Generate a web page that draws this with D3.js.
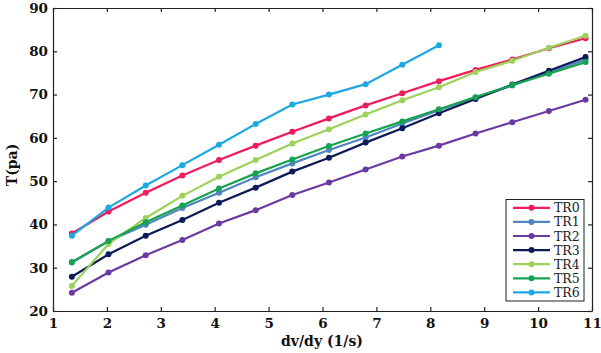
<!DOCTYPE html>
<html>
<head>
<meta charset="utf-8">
<script src="https://cdn.jsdelivr.net/npm/d3@7"></script>
<style>
  body { margin: 0; background: #fff; }
  text { font-family: "DejaVu Serif", serif; }
</style>
</head>
<body>
<svg id="chart" width="601" height="353"></svg>
<script>
// shear rate points (1/s)
var rates = [1.35, 2.03, 2.72, 3.4, 4.08, 4.76, 5.44, 6.12, 6.8, 7.48, 8.16, 8.84, 9.52, 10.2, 10.88]

var names = ["TR0", "TR1", "TR2", "TR3", "TR4", "TR5", "TR6"]
var colors = ["#f01a5c", "#4f86c2", "#6a3aa2", "#0c1b57", "#9cd25a", "#17a24f", "#1ca9e2"]

var tr0 = [37.9, 43.0, 47.3, 51.3, 54.9, 58.2, 61.4, 64.5, 67.5, 70.3, 73.1, 75.7, 78.1, 80.7, 83.0]
var tr1 = [31.2, 36.1, 39.9, 43.8, 47.3, 50.9, 54.1, 57.2, 60.1, 63.3, 66.4, 69.3, 72.1, 75.1, 78.1]
var tr2 = [24.2, 28.9, 32.9, 36.4, 40.2, 43.3, 46.8, 49.7, 52.7, 55.7, 58.2, 61.0, 63.6, 66.2, 68.8]
var tr3 = [27.9, 33.1, 37.4, 41.0, 45.0, 48.5, 52.2, 55.4, 58.9, 62.2, 65.7, 69.0, 72.3, 75.5, 78.7]
var tr4 = [25.8, 35.5, 41.5, 46.6, 51.0, 54.9, 58.7, 62.0, 65.4, 68.7, 71.7, 75.2, 77.8, 80.8, 83.6]
var tr5 = [31.3, 36.2, 40.5, 44.4, 48.3, 51.8, 55.0, 58.1, 61.0, 63.8, 66.6, 69.4, 72.2, 74.8, 77.5]
var tr6 = [37.4, 43.9, 49.0, 53.7, 58.4, 63.2, 67.7, 70.0, 72.4, 76.9, 81.4]

var seriesValues = [tr0, tr1, tr2, tr3, tr4, tr5, tr6]

var xTicks = [1, 2, 3, 4, 5, 6, 7, 8, 9, 10, 11]
var yTicks = [20, 30, 40, 50, 60, 70, 80, 90]

var svg = d3.select("#chart")
// plot box edges (window.top is reserved, so use other names)
var plotLeft = 53, plotRight = 592, plotTop = 8, plotBottom = 311

var x = d3.scaleLinear().domain([1, 11]).range([plotLeft, plotRight])
var y = d3.scaleLinear().domain([20, 90]).range([plotBottom, plotTop])

// axes, ticks pointing inward on all sides
svg.append("g")
    .attr("transform", "translate(0," + plotBottom + ")")
    .call(d3.axisBottom(x).tickValues(xTicks).tickSizeInner(-4).tickSizeOuter(0).tickPadding(7))
svg.append("g")
    .attr("transform", "translate(0," + plotTop + ")")
    .call(d3.axisTop(x).tickValues(xTicks).tickSizeInner(-4).tickSizeOuter(0).tickFormat(""))
svg.append("g")
    .attr("transform", "translate(" + plotLeft + ",0)")
    .call(d3.axisLeft(y).tickValues(yTicks).tickSizeInner(-4).tickSizeOuter(0).tickPadding(5))
svg.append("g")
    .attr("transform", "translate(" + plotRight + ",0)")
    .call(d3.axisRight(y).tickValues(yTicks).tickSizeInner(-4).tickSizeOuter(0).tickFormat(""))

svg.selectAll(".domain").attr("stroke", "#222").attr("stroke-width", 1.2)
svg.selectAll(".tick line").attr("stroke", "#222").attr("stroke-width", 1.2)
svg.selectAll(".tick text")
    .attr("font-family", "DejaVu Serif, serif")
    .attr("font-weight", "bold")
    .attr("font-size", 13.5)
    .attr("fill", "#111")

var line = d3.line()
    .x(function(d, i) { return x(rates[i]) })
    .y(function(d) { return y(d) })

seriesValues.forEach(function(vals, k) {
    var g = svg.append("g")
    g.append("path")
        .attr("d", line(vals))
        .attr("fill", "none")
        .attr("stroke", colors[k])
        .attr("stroke-width", 2.2)
    g.selectAll("circle").data(vals).enter().append("circle")
        .attr("cx", function(d, i) { return x(rates[i]) })
        .attr("cy", function(d) { return y(d) })
        .attr("r", 3)
        .attr("fill", colors[k])
})

// legend
var lg = svg.append("g")
lg.append("rect")
    .attr("x", 506).attr("y", 199.5)
    .attr("width", 78).attr("height", 101.5)
    .attr("fill", "#fff").attr("stroke", "#222").attr("stroke-width", 1)
names.forEach(function(n, k) {
    var yy = 207.8 + k * 14.1
    lg.append("line")
        .attr("x1", 513).attr("x2", 550).attr("y1", yy).attr("y2", yy)
        .attr("stroke", colors[k]).attr("stroke-width", 2.2)
    lg.append("circle")
        .attr("cx", 531.5).attr("cy", yy).attr("r", 3)
        .attr("fill", colors[k])
    lg.append("text")
        .attr("x", 554).attr("y", yy + 4.5)
        .attr("font-family", "Liberation Serif, serif")
        .attr("font-size", 12.5)
        .attr("fill", "#222")
        .text(n)
})

// axis titles
svg.append("text")
    .attr("x", 322).attr("y", 346)
    .attr("text-anchor", "middle")
    .attr("font-weight", "bold")
    .attr("font-size", 14)
    .attr("fill", "#111")
    .text("dv/dy (1/s)")
svg.append("text")
    .attr("transform", "translate(17,165) rotate(-90)")
    .attr("text-anchor", "middle")
    .attr("font-weight", "bold")
    .attr("font-size", 14)
    .attr("fill", "#111")
    .text("T(pa)")
</script>
</body>
</html>
